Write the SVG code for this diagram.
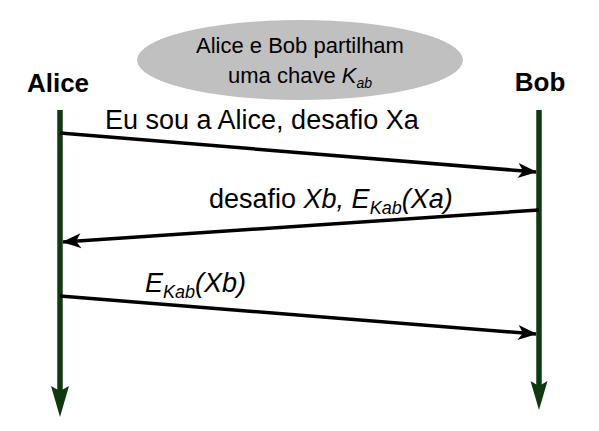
<svg xmlns="http://www.w3.org/2000/svg" width="599" height="431" viewBox="0 0 599 431">
<style>
text{font-family:"Liberation Sans",Arial,sans-serif;fill:#000}
.actor{font-size:26px;font-weight:bold}
.note{font-size:22px}
.msg{font-size:27px}
.it{font-style:italic}
.life{stroke:#0f3a0f;stroke-width:5.5;fill:none}
.lifehead{fill:#0f3a0f}
.conn{stroke:#000;stroke-width:3.5;fill:none}
</style>
<defs>
<marker id="ah" markerUnits="userSpaceOnUse" markerWidth="24" markerHeight="20" viewBox="-20 -10 24 20" refX="0" refY="0" orient="auto">
<path d="M1,0 L-18,-7.5 L-13,0 L-18,7.5 Z" fill="#000"/>
</marker>
</defs>
<rect width="599" height="431" fill="#fff"/>
<g id="note">
<ellipse cx="300" cy="60" rx="163" ry="40" fill="#c0c0c0"/>
<text class="note" x="300" y="53" text-anchor="middle">Alice e Bob partilham</text>
<text class="note" x="300" y="83" text-anchor="middle">uma chave <tspan class="it">K</tspan><tspan class="it" font-size="14" dy="5">ab</tspan></text>
</g>
<g id="alice">
<text class="actor" x="58" y="92" text-anchor="middle">Alice</text>
<line class="life" x1="60" y1="110" x2="60" y2="395"/>
<path class="lifehead" d="M60,417 L51,386 L60,391 L69,386 Z"/>
</g>
<g id="bob">
<text class="actor" x="540" y="91" text-anchor="middle">Bob</text>
<line class="life" x1="539" y1="110" x2="539" y2="388"/>
<path class="lifehead" d="M539,410 L530.5,381 L539,386 L547.5,381 Z"/>
</g>
<g id="connectors">
<line class="conn" x1="60" y1="133" x2="536" y2="172" marker-end="url(#ah)"/>
<line class="conn" x1="539" y1="210" x2="63" y2="242" marker-end="url(#ah)"/>
<line class="conn" x1="60" y1="296" x2="536" y2="334" marker-end="url(#ah)"/>
</g>
<g id="labels">
<text class="msg" x="105" y="129">Eu sou a Alice, desafio Xa</text>
<text class="msg" x="209" y="208">desafio <tspan class="it">Xb, E</tspan><tspan class="it" font-size="18" dy="6">Kab</tspan><tspan class="it" dy="-6">(Xa)</tspan></text>
<text class="msg" x="145" y="292"><tspan class="it">E</tspan><tspan class="it" font-size="18" dy="6">Kab</tspan><tspan class="it" dy="-6">(Xb)</tspan></text>
</g>
</svg>
